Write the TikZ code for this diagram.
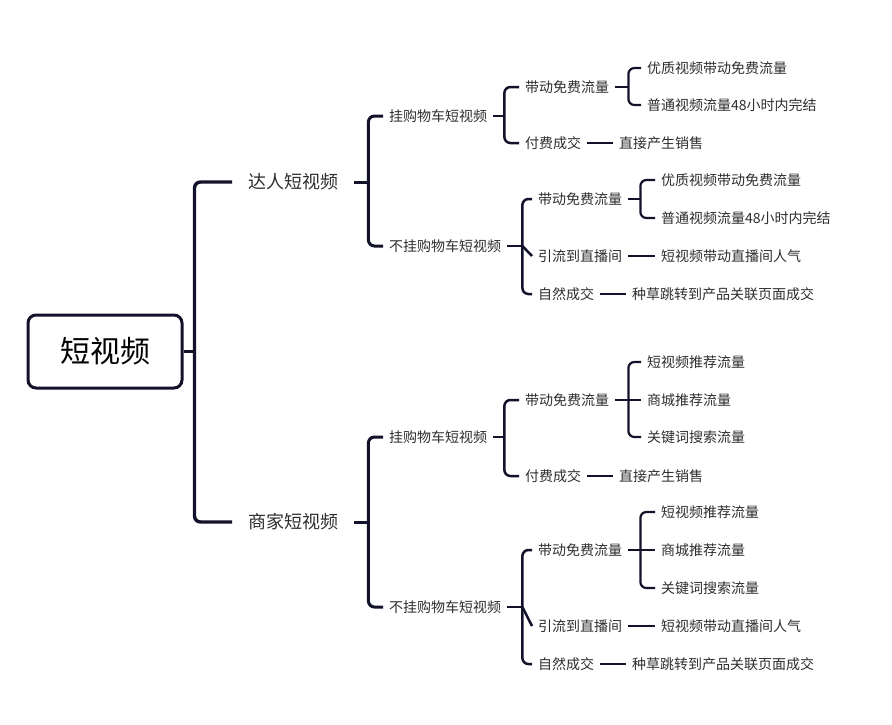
\documentclass[tikz,border=0pt]{standalone}
\usepackage{fontspec}
\setmainfont{Noto Sans CJK SC}
\definecolor{ln}{HTML}{12122A}
\definecolor{txt}{HTML}{2E2E2E}
\tikzset{
  lvone/.style={font=\fontsize{18}{18}\selectfont, inner xsep=16pt, inner ysep=2pt, anchor=west, text=txt},
  lv/.style={font=\fontsize{14}{14}\selectfont, inner xsep=6pt, inner ysep=2pt, anchor=west, text=txt},
  wa/.style={draw=ln, line width=3.4pt},
  wb/.style={draw=ln, line width=3pt},
  wc/.style={draw=ln, line width=2.5pt},
  wd/.style={draw=ln, line width=2.2pt},
}
\newcommand\mybrk[5]{%
  \draw[#1] (#2.east) -- ++(#3,0) coordinate (#2m);
  \draw[#1, rounded corners=6pt] (#4.west) -| (#2m) |- (#5.west);}
\begin{document}
\begin{tikzpicture}[x=1pt,y=-1pt]
\useasboundingbox[fill=white] (0,0) rectangle (892,724);
% root
\node[draw=ln, line width=3pt, rounded corners=8pt, minimum width=154pt, minimum height=73pt,
      font=\fontsize{30}{30}\selectfont, text=black] (root) at (105,351.5) {短视频};
% level 1
\node[lvone] (A) at (232,182) {达人短视频};
\node[lvone] (B) at (232,522) {商家短视频};
% level 2
\node[lv] (A1) at (383,116) {挂购物车短视频};
\node[lv] (A2) at (383,246) {不挂购物车短视频};
\node[lv] (B1) at (383,437) {挂购物车短视频};
\node[lv] (B2) at (383,607) {不挂购物车短视频};
% level 3
\node[lv] (A11) at (519,87) {带动免费流量};
\node[lv] (A12) at (519,143) {付费成交};
\node[lv] (A21) at (532,199) {带动免费流量};
\node[lv] (A22) at (532,256) {引流到直播间};
\node[lv] (A23) at (532,294) {自然成交};
\node[lv] (B11) at (519,400) {带动免费流量};
\node[lv] (B12) at (519,476) {付费成交};
\node[lv] (B21) at (532,550) {带动免费流量};
\node[lv] (B22) at (532,626) {引流到直播间};
\node[lv] (B23) at (532,664) {自然成交};
% level 4
\node[lv] (A111) at (641,68) {优质视频带动免费流量};
\node[lv] (A112) at (641,105) {普通视频流量48小时内完结};
\node[lv] (A121) at (613,143) {直接产生销售};
\node[lv] (A211) at (655,180) {优质视频带动免费流量};
\node[lv] (A212) at (655,218) {普通视频流量48小时内完结};
\node[lv] (A221) at (655,256) {短视频带动直播间人气};
\node[lv] (A231) at (626,294) {种草跳转到产品关联页面成交};
\node[lv] (B111) at (641,362) {短视频推荐流量};
\node[lv] (B112) at (641,400) {商城推荐流量};
\node[lv] (B113) at (641,437) {关键词搜索流量};
\node[lv] (B121) at (613,476) {直接产生销售};
\node[lv] (B211) at (655,512) {短视频推荐流量};
\node[lv] (B212) at (655,550) {商城推荐流量};
\node[lv] (B213) at (655,588) {关键词搜索流量};
\node[lv] (B221) at (655,626) {短视频带动直播间人气};
\node[lv] (B231) at (626,664) {种草跳转到产品关联页面成交};
% connectors
\mybrk{wa}{root}{11}{A}{B}
\mybrk{wb}{A}{14}{A1}{A2}
\mybrk{wb}{B}{14}{B1}{B2}
\mybrk{wc}{A1}{11}{A11}{A12}
\mybrk{wc}{A2}{15}{A21}{A23}
\draw[wc] (A2m) -- (A22.west);
\mybrk{wc}{B1}{11}{B11}{B12}
\mybrk{wc}{B2}{15}{B21}{B23}
\draw[wc] (B2m) -- (B22.west);
\mybrk{wd}{A11}{13}{A111}{A112}
\mybrk{wd}{A21}{12}{A211}{A212}
\mybrk{wd}{B11}{13}{B111}{B113}
\draw[wd] (B11m) -- (B112.west);
\mybrk{wd}{B21}{12}{B211}{B213}
\draw[wd] (B21m) -- (B212.west);
\draw[wd] (A12) -- (A121);
\draw[wd] (A22) -- (A221);
\draw[wd] (A23) -- (A231);
\draw[wd] (B12) -- (B121);
\draw[wd] (B22) -- (B221);
\draw[wd] (B23) -- (B231);
\end{tikzpicture}
\end{document}
